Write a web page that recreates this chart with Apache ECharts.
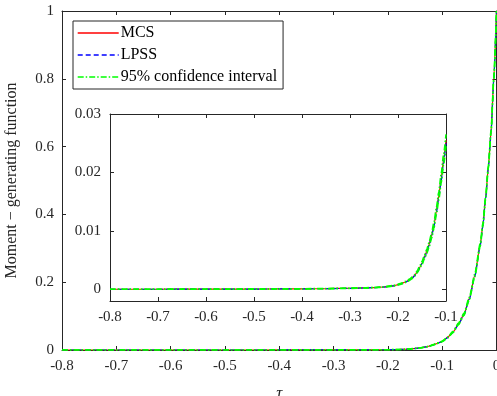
<!DOCTYPE html>
<html><head><meta charset="utf-8">
<script src="https://cdn.jsdelivr.net/npm/echarts@6/dist/echarts.min.js"></script>
<style>html,body{margin:0;padding:0;background:#fff}#c{width:497px;height:396px}</style>
</head><body><div id="c"></div>
<script>
const tau = [-0.8,-0.75,-0.7,-0.65,-0.6,-0.55,-0.5,-0.45,-0.4,-0.35,-0.3,
  -0.27,-0.25,-0.23,-0.21,
  -0.2,-0.195,-0.19,-0.185,-0.18,-0.175,-0.17,-0.165,-0.16,-0.155,-0.15,-0.145,-0.14,-0.135,-0.13,-0.125,-0.12,-0.115,-0.11,-0.105,-0.1,
  -0.09,-0.08,-0.07,-0.06,-0.05,-0.04,-0.03,
  -0.025,-0.02,-0.015,-0.01,-0.005,0];
const mcs = [0.00001,0.00001,0.00001,0.00002,0.00002,0.00003,0.00004,0.00006,0.00008,0.00012,0.00018,
  0.00024,0.00030,0.00040,0.00060,
  0.00080,0.00092,0.00105,0.00125,0.00145,0.00170,0.00200,0.00240,0.00300,0.00370,0.00450,0.00550,0.00650,0.00770,0.00920,0.01100,0.01340,0.01600,0.01900,0.02220,0.02550,
  0.0370,0.0530,0.0770,0.1050,0.1520,0.2200,0.3100,
  0.3700,0.4500,0.5400,0.6450,0.8000,1.0];
const lpss = [0.00001,0.00001,0.00001,0.00002,0.00002,0.00003,0.00004,0.00006,0.00008,0.00011,0.00017,
  0.00023,0.00029,0.00038,0.00058,
  0.00077,0.00089,0.00102,0.00121,0.00141,0.00165,0.00195,0.00234,0.00292,0.00361,0.00440,0.00538,0.00636,0.00754,0.00901,0.01078,0.01313,0.01568,0.01862,0.02176,0.02500,
  0.0363,0.0520,0.0756,0.1032,0.1497,0.2170,0.3068,
  0.3668,0.4470,0.5375,0.6430,0.7985,1.0];
const ciUp = [0.00002,0.00002,0.00002,0.00003,0.00003,0.00004,0.00005,0.00007,0.00010,0.00014,0.00021,
  0.00027,0.00034,0.00045,0.00066,
  0.00087,0.00100,0.00114,0.00135,0.00156,0.00182,0.00213,0.00255,0.00318,0.00391,0.00475,0.00580,0.00685,0.00810,0.00965,0.01152,0.01400,0.01670,0.01980,0.02310,0.02650,
  0.0384,0.0550,0.0795,0.1080,0.1555,0.2240,0.3145,
  0.3745,0.4545,0.5440,0.6485,0.8025,1.0];
const ciLow = [0.00000,0.00000,0.00000,0.00001,0.00001,0.00002,0.00003,0.00005,0.00006,0.00010,0.00015,
  0.00021,0.00026,0.00035,0.00054,
  0.00073,0.00084,0.00096,0.00115,0.00134,0.00158,0.00187,0.00225,0.00282,0.00349,0.00425,0.00520,0.00615,0.00730,0.00875,0.01048,0.01280,0.01530,0.01820,0.02130,0.02450,
  0.0356,0.0510,0.0745,0.1020,0.1485,0.2160,0.3055,
  0.3655,0.4455,0.5360,0.6415,0.7975,1.0];
const mainXTicks = [-0.8,-0.7,-0.6,-0.5,-0.4,-0.3,-0.2,-0.1,0];
const mainYTicks = [0,0.2,0.4,0.6,0.8,1];
const insetXTicks = [-0.8,-0.7,-0.6,-0.5,-0.4,-0.3,-0.2,-0.1];
const insetYTicks = [0,0.01,0.02,0.03];
const insetTauMax = -0.1;

const FONT = 'Liberation Serif';
const AX = '#262626';
const pairs = (arr, maxT) => tau.map((t,i)=>[t, arr[i]]).filter(p => maxT === undefined || p[0] <= maxT + 1e-9);
const fmt = v => { const r = Math.round(v*100)/100; if (Math.abs(r) < 1e-9) return '0'; return String(r); };
const fmtY = v => { const r = Math.round(v*1000)/1000; if (Math.abs(r) < 1e-9) return '0'; return String(r); };

function axisCommon(extra){
  return Object.assign({
    type:'value',
    axisLine:{show:true,onZero:false,lineStyle:{color:AX,width:1}},
    axisTick:{show:true,inside:true,length:4,lineStyle:{color:AX,width:1}},
    splitLine:{show:false},
    axisLabel:{color:'#262626',fontFamily:FONT,fontSize:15}
  }, extra);
}

const seriesDefs = [
  {name:'MCS', data:mcs, color:'#ff0000', type:'solid', width:1.2, z:2},
  {name:'LPSS', data:lpss, color:'#0000ff', type:[5,3], width:1.2, z:3},
  {name:'95% confidence interval', data:ciUp, color:'#00ff00', type:[6,2,1.5,2], width:1.6, z:4},
  {name:'95% confidence interval', data:ciLow, color:'#00ff00', type:[6,2,1.5,2], width:1.6, z:4}
];

const series = [];
[0,1].forEach(g=>{
  seriesDefs.forEach(s=>{
    series.push({
      type:'line', name:s.name, xAxisIndex:g*2, yAxisIndex:g*2,
      data: g === 0 ? pairs(s.data) : pairs(s.data, insetTauMax),
      showSymbol:false, symbol:'none',
      smooth:0.2, smoothMonotone:'x', clip:true,
      lineStyle:{color:s.color,width:s.width,type:s.type},
      itemStyle:{color:s.color},
      z:s.z + g*10, animation:false
    });
  });
});

const chart = echarts.init(document.getElementById('c'), null, {renderer:'canvas'});
chart.setOption({
  animation:false,
  backgroundColor:'#fff',
  grid:[
    {left:62, top:11, width:434.5, height:339, containLabel:false, outerBoundsMode:'none', show:false},
    {left:110, top:114, width:336, height:187, containLabel:false, outerBoundsMode:'none', show:true, backgroundColor:'#fff', borderWidth:0, z:5}
  ],
  xAxis:[
    axisCommon({gridIndex:0, position:'bottom', min:-0.8, max:0, interval:0.1,
      axisLabel:{color:'#262626',fontFamily:FONT,fontSize:15,margin:9,formatter:fmt,customValues:mainXTicks},
      axisTick:{show:true,inside:true,length:4,lineStyle:{color:AX},customValues:mainXTicks},
      name:'τ', nameLocation:'middle', nameGap:35,
      nameTextStyle:{fontFamily:FONT,fontSize:17,fontStyle:'italic',color:'#262626'}}),
    axisCommon({gridIndex:0, position:'top', min:-0.8, max:0, interval:0.1,
      axisLabel:{show:false}}),
    axisCommon({gridIndex:1, position:'bottom', min:-0.8, max:-0.1, interval:0.1, z:6,
      axisLabel:{color:'#262626',fontFamily:FONT,fontSize:15,margin:9,formatter:fmt,customValues:insetXTicks},
      axisTick:{show:true,inside:true,length:4,lineStyle:{color:AX},customValues:insetXTicks}}),
    axisCommon({gridIndex:1, position:'top', min:-0.8, max:-0.1, interval:0.1, z:6,
      axisLabel:{show:false}})
  ],
  yAxis:[
    axisCommon({gridIndex:0, position:'left', min:0, max:1, interval:0.2,
      axisLabel:{color:'#262626',fontFamily:FONT,fontSize:15,margin:8,formatter:fmt,customValues:mainYTicks},
      axisTick:{show:true,inside:true,length:4,lineStyle:{color:AX},customValues:mainYTicks},
      name:'Moment − generating function', nameLocation:'middle', nameGap:42,
      nameTextStyle:{fontFamily:FONT,fontSize:16,color:'#262626'}}),
    axisCommon({gridIndex:0, position:'right', min:0, max:1, interval:0.2,
      axisLabel:{show:false}}),
    axisCommon({gridIndex:1, position:'left', min:-0.002, max:0.03, z:6,
      axisLabel:{color:'#262626',fontFamily:FONT,fontSize:15,margin:9,formatter:fmtY,customValues:insetYTicks},
      axisTick:{show:true,inside:true,length:4,lineStyle:{color:AX},customValues:insetYTicks}}),
    axisCommon({gridIndex:1, position:'right', min:-0.002, max:0.03, z:6,
      axisLabel:{show:false},
      axisTick:{show:true,inside:true,length:4,lineStyle:{color:AX},customValues:insetYTicks}})
  ],
  legend:{
    orient:'vertical', left:73, top:21,
    data:['MCS','LPSS','95% confidence interval'],
    itemWidth:41, itemHeight:14, itemGap:6,
    padding:[4,6,4,4],
    backgroundColor:'#fff', borderColor:AX, borderWidth:1,
    itemStyle:{color:'rgba(0,0,0,0)', borderColor:'rgba(0,0,0,0)', borderWidth:0},
    lineStyle:{width:1.4},
    textStyle:{fontFamily:FONT,fontSize:16,color:'#000',padding:[0,0,0,-3]},
    selectedMode:false, z:20
  },
  series:series
});
</script></body></html>
